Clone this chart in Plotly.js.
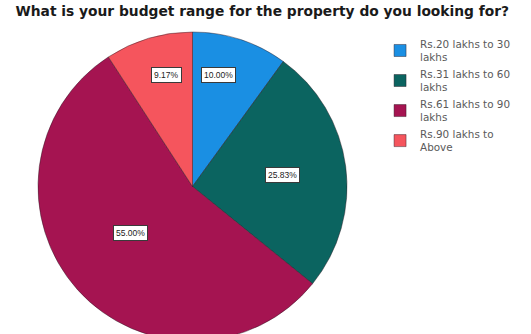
<!DOCTYPE html>
<html>
<head>
<meta charset="utf-8">
<script src="https://cdn.plot.ly/plotly-3.0.1.min.js"></script>
<style>
  html, body { margin: 0; padding: 0; overflow: hidden; background: #ffffff; }
  #chart { width: 531px; height: 350px; }
</style>
</head>
<body>
<div id="chart"></div>
<script>
// Survey answers: budget range of the property respondents are looking for
const budgetRanges = [
  "Rs.20 lakhs to 30<br>lakhs",
  "Rs.31 lakhs to 60<br>lakhs",
  "Rs.61 lakhs to 90<br>lakhs",
  "Rs.90 lakhs to<br>Above"
];
const respondents = [12, 31, 66, 11];
const sliceColors = ["#1a8fe3", "#0b6460", "#a51451", "#f5555d"];

// Placement of each percentage box: fraction of the radius, and a small
// angular nudge (degrees) away from the slice's mid-angle
const labelRadius = [0.74, 0.59, 0.50, 0.74];
const labelNudge = [-4.6, 0.3, 5, 3.6];

const total = respondents.reduce((a, b) => a + b, 0);

// Percentage boxes around each slice's mid-angle (clockwise from 12 o'clock)
const annotations = [];
let start = 0;
respondents.forEach((v, i) => {
  const share = v / total;
  const mid = (start + share / 2) * 2 * Math.PI + labelNudge[i] * Math.PI / 180;
  start += share;
  annotations.push({
    xref: "paper", yref: "paper",
    x: 0.5 + 0.5 * labelRadius[i] * Math.sin(mid),
    y: 0.5 + 0.5 * labelRadius[i] * Math.cos(mid),
    text: (share * 100).toFixed(2) + "%",
    showarrow: false,
    xanchor: "center", yanchor: "middle",
    font: { family: "Liberation Sans, Arial, sans-serif", size: 8.5, color: "#222222" },
    bgcolor: "#ffffff",
    bordercolor: "#3a3a3a",
    borderwidth: 1,
    borderpad: 2
  });
});

const trace = {
  type: "pie",
  labels: budgetRanges,
  values: respondents,
  sort: false,
  direction: "clockwise",
  rotation: 0,
  textinfo: "none",
  hoverinfo: "label+percent",
  marker: { colors: sliceColors, line: { color: "rgba(40,20,30,0.55)", width: 0.8 } }
};

const layout = {
  width: 531,
  height: 350,
  margin: { l: 38, r: 184, t: 32, b: 9 },
  paper_bgcolor: "#ffffff",
  title: {
    text: "What is your budget range for the property do you looking for?",
    font: { family: "DejaVu Sans, sans-serif", size: 13.8, color: "#1a1a1a", weight: "bold" },
    xref: "container", yref: "container",
    x: 0.494, xanchor: "center",
    y: 1 - 11 / 350, yanchor: "middle"
  },
  showlegend: true,
  legend: {
    x: 1.107, xanchor: "left",
    y: 1.005, yanchor: "top",
    font: { family: "DejaVu Sans, sans-serif", size: 10.4, color: "#5a5a5a" },
    bgcolor: "rgba(0,0,0,0)",
    traceorder: "normal"
  },
  annotations: annotations
};

Plotly.newPlot("chart", [trace], layout, { displayModeBar: false, staticPlot: true });
</script>
</body>
</html>
